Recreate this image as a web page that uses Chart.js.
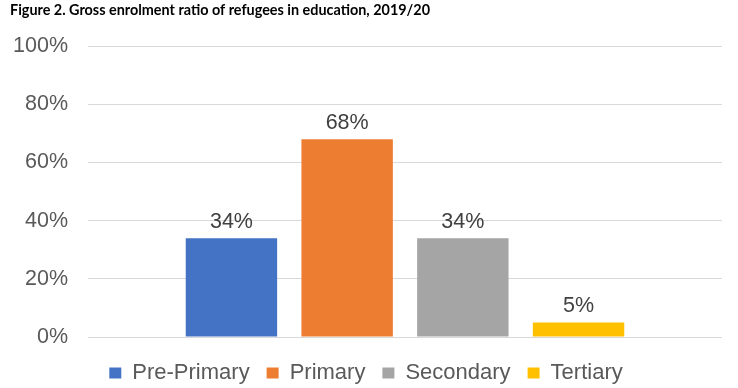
<!DOCTYPE html>
<html>
<head>
    <title>Gross enrolment ratio of refugees</title>
    <script src="https://cdn.jsdelivr.net/npm/chart.js@4/dist/chart.umd.min.js"></script>
    <style>
        body { margin: 0; background: #fff; }
        #wrap { width: 738px; height: 388px; }
    </style>
</head>
<body>
    <div id="wrap"><canvas id="myChart"></canvas></div>

    <script>
        var levels = ['Pre-Primary', 'Primary', 'Secondary', 'Tertiary'];
        var ratios = [34, 68, 34, 5];
        var colours = ['#4472C4', '#ED7D31', '#A5A5A5', '#FFC000'];
        var yTicks = [0, 20, 40, 60, 80, 100];

        var fontFam = '"Liberation Sans", Arial, sans-serif';

        // value labels above each bar
        var barLabels = {
            id: 'barLabels',
            afterDatasetsDraw: function(chart) {
                var ctx = chart.ctx;
                ctx.save();
                ctx.font = '21.5px ' + fontFam;
                ctx.fillStyle = '#404040';
                ctx.textAlign = 'center';
                ctx.textBaseline = 'alphabetic';
                chart.data.datasets.forEach(function(ds, i) {
                    var bar = chart.getDatasetMeta(i).data[0];
                    ctx.fillText(ds.data[0] + '%', bar.x, bar.y - 10);
                });
                ctx.restore();
            }
        };

        var datasets = levels.map(function(name, i) {
            return {
                label: name,
                data: [ratios[i]],
                backgroundColor: colours[i],
                categoryPercentage: 0.73,
                barPercentage: 0.79
            };
        });

        var ctx = document.getElementById('myChart').getContext('2d');
        var chart = new Chart(ctx, {
            type: 'bar',
            data: { labels: [''], datasets: datasets },
            plugins: [barLabels],
            options: {
                responsive: true,
                maintainAspectRatio: false,
                animation: false,
                layout: { padding: { left: 10, right: 16, top: 0, bottom: -6 } },
                plugins: {
                    tooltip: { enabled: false },
                    title: {
                        display: true,
                        text: 'Figure 2. Gross enrolment ratio of refugees in education, 2019/20',
                        align: 'start',
                        color: '#000',
                        font: { family: 'Lato, "Open Sans", sans-serif', size: 14.4, weight: 'bold' },
                        padding: { top: 2, bottom: 27 }
                    },
                    legend: {
                        position: 'bottom',
                        labels: {
                            color: '#595959',
                            font: { family: fontFam, size: 22 },
                            boxWidth: 12,
                            boxHeight: 11,
                            padding: 17
                        }
                    }
                },
                scales: {
                    x: {
                        grid: { display: false },
                        border: { display: false },
                        ticks: { display: false }
                    },
                    y: {
                        min: 0,
                        max: 100,
                        afterBuildTicks: function(axis) {
                            axis.ticks = yTicks.map(function(v) { return { value: v }; });
                        },
                        afterFit: function(axis) { axis.width = 78; },
                        border: { display: false },
                        grid: { color: '#D9D9D9', lineWidth: 1, drawTicks: false },
                        ticks: {
                            color: '#595959',
                            font: { family: fontFam, size: 21.5 },
                            padding: 20,
                            callback: function(v) { return v + '%'; }
                        }
                    }
                }
            }
        });
    </script>
</body>
</html>
